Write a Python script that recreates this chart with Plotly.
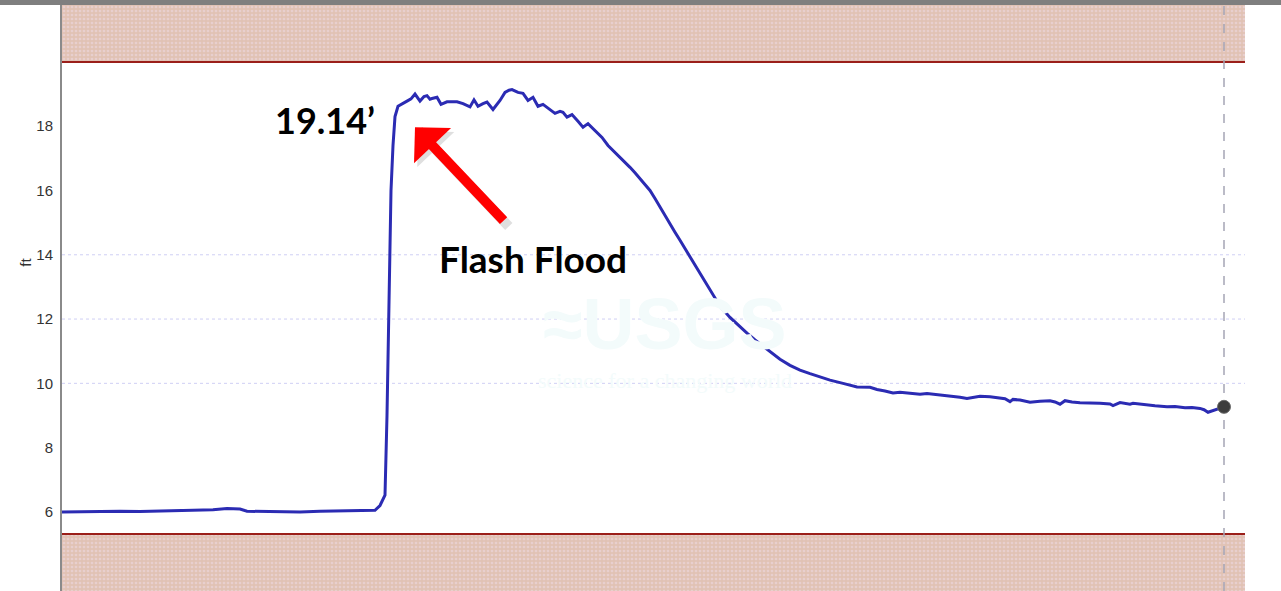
import plotly.graph_objects as go

# ---- data (hours since start, stage in ft) ----
HOURS = [0, 2.25, 4.75, 7.25, 9.75, 12.25, 14.75, 17.25, 18.875, 20.625, 22.25, 23.125,
         24.75, 27.25, 29.75, 32.25, 34.75, 37.25, 39.125, 39.75, 40.375, 40.625, 40.875,
         41.125, 41.375, 41.625, 42.0, 42.625, 43.125, 43.625, 44.125, 44.75, 45.25, 45.625,
         46.0, 46.25, 46.875, 47.375, 48.125, 48.75, 49.375, 50.125, 51.0, 51.5, 52.0, 52.625,
         53.125, 53.875, 54.75, 55.375, 55.875, 56.25, 57.0, 57.625, 58.25, 58.875, 59.5,
         60.125, 61.0, 61.625, 62.25, 62.625, 63.125, 63.75, 64.5, 65.125, 65.75, 66.625,
         67.5, 68.25, 69.0, 69.75, 70.375, 71.0, 71.625, 72.25, 72.875, 73.5, 74.125, 74.75,
         75.375, 76.0, 76.625, 77.25, 77.875, 78.5, 79.125, 79.75, 80.375, 81.0, 82.25, 83.5,
         84.75, 85.625, 86.625, 87.875, 88.75, 89.75, 91.0, 92.25, 93.5, 94.75, 96.0, 97.625,
         99.375, 101.0, 101.875, 102.875, 103.875, 104.75, 105.625, 106.375, 107.25, 108.125,
         108.875, 110.125, 111.375, 112.25, 113.125, 114.125, 114.75, 116.0, 116.875, 117.875,
         118.5, 118.875, 119.75, 121.0, 122.25, 123.5, 124.125, 124.75, 125.375, 126.25,
         127.25, 128.5, 129.75, 131.0, 131.375, 132.25, 133.5, 133.875, 135.375, 136.625,
         138.125, 139.125, 140.375, 141.25, 142.25, 142.75, 143.25, 143.875, 144.5, 145.25]
STAGE_FT = [6.00, 6.01, 6.00, 6.02, 6.01, 6.03, 6.05, 6.08, 6.07, 6.11, 6.09, 6.02,
            6.01, 6.00, 6.00, 6.02, 6.03, 6.04, 6.05, 6.20, 6.52, 9.0, 13.0,
            16.0, 17.4, 18.3, 18.62, 18.72, 18.78, 18.85, 19.0, 18.78, 18.92, 18.95,
            18.84, 18.86, 18.9, 18.68, 18.76, 18.76, 18.76, 18.7, 18.6, 18.82, 18.62, 18.7,
            18.75, 18.52, 18.8, 19.05, 19.12, 19.14, 19.05, 19.02, 18.8, 18.9, 18.62,
            18.68, 18.52, 18.4, 18.46, 18.43, 18.28, 18.36, 18.15, 17.97, 18.08, 17.85,
            17.65, 17.4, 17.22, 17.03, 16.88, 16.72, 16.55, 16.36, 16.18, 16.0, 15.75, 15.48,
            15.22, 14.97, 14.7, 14.45, 14.19, 13.93, 13.67, 13.41, 13.15, 12.89, 12.4, 12.05,
            11.75, 11.56, 11.35, 11.1, 10.95, 10.75, 10.56, 10.41, 10.3, 10.2, 10.1, 10.0,
            9.89, 9.88, 9.81, 9.76, 9.7, 9.72, 9.7, 9.66, 9.66, 9.68,
            9.66, 9.63, 9.6, 9.57, 9.53, 9.58, 9.6, 9.58, 9.56, 9.52,
            9.43, 9.5, 9.48, 9.41, 9.44, 9.46, 9.42, 9.35, 9.46, 9.42,
            9.4, 9.4, 9.38, 9.36, 9.31, 9.4, 9.35, 9.38, 9.33, 9.3,
            9.27, 9.28, 9.24, 9.25, 9.22, 9.18, 9.10, 9.15, 9.22, 9.27]

Y_TICKS = [6, 8, 10, 12, 14, 16, 18]
GRID_LINES = [10, 12, 14]
UPPER_LIMIT = 20.0
LOWER_LIMIT = 5.31
Y_RANGE = [3.54, 21.77]
X_RANGE = [0, 147.875]
PEAK_LABEL = "19.14\u2019"
EVENT_LABEL = "Flash Flood"
Y_TITLE = "ft"

fig = go.Figure()

band_pattern = dict(shape=".", bgcolor="#e1c2b4", fgcolor="#f0dbe8", size=4, solidity=0.35)
for lo, hi in [(UPPER_LIMIT, Y_RANGE[1]), (Y_RANGE[0], LOWER_LIMIT)]:
    fig.add_trace(go.Scatter(
        x=[X_RANGE[0], X_RANGE[1], X_RANGE[1], X_RANGE[0], X_RANGE[0]],
        y=[lo, lo, hi, hi, lo], mode="lines", fill="toself",
        fillcolor="#e1c2b4", fillpattern=band_pattern,
        line=dict(width=0), hoverinfo="skip", showlegend=False))

for lvl in [UPPER_LIMIT, LOWER_LIMIT]:
    fig.add_trace(go.Scatter(x=X_RANGE, y=[lvl, lvl], mode="lines",
                             line=dict(color="#9b1f1a", width=2),
                             hoverinfo="skip", showlegend=False))

for g in GRID_LINES:
    fig.add_shape(type="line", xref="paper", x0=0, x1=1, yref="y", y0=g, y1=g,
                  line=dict(color="#cfcff4", width=1, dash="dot"), layer="below")

# watermark
fig.add_annotation(x=0.510, y=0.455, xref="paper", yref="paper", text="<b>\u2248USGS</b>",
                   showarrow=False, font=dict(size=72, color="#f3fbfb", family="Liberation Sans"))
fig.add_annotation(x=0.510, y=0.36, xref="paper", yref="paper", text="science for a changing world",
                   showarrow=False, font=dict(size=22, color="#f3fbfb", family="Liberation Serif"))

# "now" dashed line
fig.add_trace(go.Scatter(x=[HOURS[-1], HOURS[-1]], y=Y_RANGE, mode="lines",
                         line=dict(color="#a5a5b5", width=1.5, dash="dash"),
                         hoverinfo="skip", showlegend=False))

fig.add_trace(go.Scatter(x=HOURS, y=STAGE_FT, mode="lines",
                         line=dict(color="#2b2bb3", width=3),
                         showlegend=False))

fig.add_trace(go.Scatter(x=[HOURS[-1]], y=[STAGE_FT[-1]], mode="markers",
                         marker=dict(color="#3d3d3d", size=13, line=dict(color="#6a6a6a", width=1)),
                         showlegend=False))

# top gray strip
fig.add_shape(type="rect", xref="paper", yref="paper", x0=-0.06, x1=1.04, y0=1.0, y1=1.02,
              fillcolor="#7f7f7f", line=dict(width=0))

# arrow (shadow + arrow)
tip_x, tip_y = 44.125, 17.97
fig.add_annotation(x=tip_x + 0.4, y=tip_y - 0.12, ax=92, ay=97, text="", showarrow=True,
                   arrowhead=1, arrowsize=0.85, arrowwidth=10, arrowcolor="rgba(0,0,0,0.12)",
                   standoff=0)
fig.add_annotation(x=tip_x, y=tip_y, ax=90, ay=95, text="", showarrow=True,
                   arrowhead=1, arrowsize=0.85, arrowwidth=10, arrowcolor="#ff0000",
                   standoff=0)

fig.add_annotation(x=32.875, y=18.19, text="<b>" + PEAK_LABEL + "</b>", showarrow=False,
                   font=dict(size=36, color="#000000", family="Lato"))
fig.add_annotation(x=58.875, y=13.89, text="<b>" + EVENT_LABEL + "</b>", showarrow=False,
                   font=dict(size=37, color="#000000", family="Lato"))

# y-axis title placed like the reference
fig.add_annotation(x=-0.0397, y=13.77, xref="paper", yref="y", text=Y_TITLE, textangle=-90,
                   showarrow=False, font=dict(size=15, color="#333333", family="Liberation Sans"))

fig.update_layout(
    width=1281, height=591,
    margin=dict(l=62, r=36, t=5, b=0),
    paper_bgcolor="white", plot_bgcolor="white",
    xaxis=dict(range=X_RANGE, showgrid=False, zeroline=False, showticklabels=False,
               showline=False, ticks=""),
    yaxis=dict(range=Y_RANGE, tickvals=Y_TICKS, showgrid=False, zeroline=False,
               showline=True, linecolor="#8a8a8a", linewidth=2, ticks="",
               ticklabelstandoff=4,
               tickfont=dict(size=15, color="#333333", family="Liberation Sans")),
    showlegend=False,
)

fig.write_html("out.html", config={"displayModeBar": False},
               post_script="document.body.style.margin='0';")
